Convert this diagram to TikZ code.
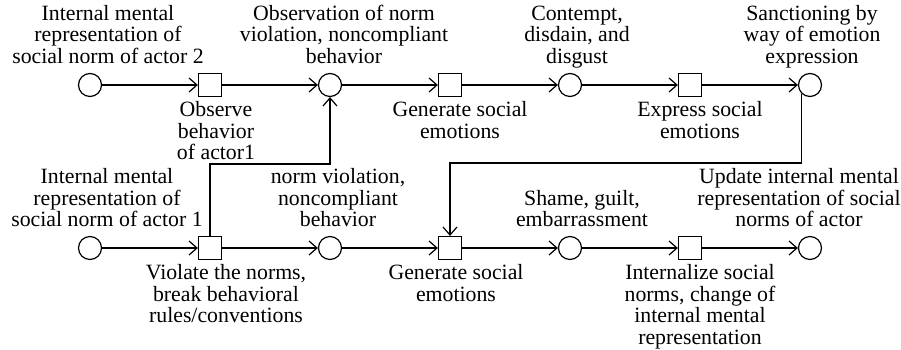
\documentclass[tikz,border=0pt]{standalone}
\usepackage{fontspec}
\setmainfont{Liberation Serif}
\usetikzlibrary{arrows.meta, positioning}

\begin{document}
\begin{tikzpicture}[x=0.5pt, y=0.5pt,
    place/.style={circle, draw, semithick, minimum size=11.5pt, inner sep=0pt},
    trans/.style={rectangle, draw, semithick, minimum size=11.5pt, inner sep=0pt},
    arc/.style={semithick, -{Straight Barb[length=4pt, width=7pt]}},
    uplbl/.style={align=center, inner sep=0pt, text depth=0pt, font=\fontsize{10.9}{10.75}\selectfont},
    dnlbl/.style={align=center, inner sep=0pt, font=\fontsize{10.9}{10.75}\selectfont}]
    \useasboundingbox (0,0) rectangle (901,349);

    % top row: actor 2 watches and sanctions
    \node[place] (c1) at (90,264) {};
    \node[trans] (t1) at (210,264) {};
    \node[place] (c2) at (330,264) {};
    \node[trans] (t2) at (450,264) {};
    \node[place] (c3) at (570,264) {};
    \node[trans] (t3) at (690,264) {};
    \node[place] (c4) at (810,264) {};

    % bottom row: actor 1 breaks the norm
    \node[place] (c5) at (90,101) {};
    \node[trans] (t5) at (210,101) {};
    \node[place] (c6) at (330,101) {};
    \node[trans] (t6) at (450,101) {};
    \node[place] (c7) at (570,101) {};
    \node[trans] (t7) at (690,101) {};
    \node[place] (c8) at (810,101) {};

    \node[uplbl, above=4.5pt of c1, xshift=9pt] (c1l) {Internal mental\\representation of\\social norm of actor 2};
    \node[dnlbl, below=2pt of t1, xshift=3pt] (t1l) {Observe\\behavior\\of actor1};
    \node[uplbl, above=4.5pt of c2, xshift=7pt] (c2l) {Observation of norm\\violation, noncompliant\\behavior};
    \node[dnlbl, below=2pt of t2, xshift=5pt] (t2l) {Generate social\\emotions};
    \node[uplbl, above=4.5pt of c3, xshift=3.5pt] (c3l) {Contempt,\\disdain, and\\disgust};
    \node[dnlbl, below=2pt of t3, xshift=5pt] (t3l) {Express social\\emotions};
    \node[uplbl, above=4.5pt of c4, xshift=1pt] (c4l) {Sanctioning by\\way of emotion\\expression};

    \node[uplbl, above=4.5pt of c5, xshift=8.5pt] (c5l) {Internal mental\\representation of\\social norm of actor 1};
    \node[dnlbl, below=2pt of t5, xshift=8pt] (t5l) {Violate the norms,\\break behavioral\\rules/conventions};
    \node[uplbl, above=4.5pt of c6, xshift=4pt] (c6l) {norm violation,\\noncompliant\\behavior};
    \node[dnlbl, below=2pt of t6, xshift=3pt] (t6l) {Generate social\\emotions};
    \node[uplbl, above=4.5pt of c7, xshift=6pt] (c7l) {Shame, guilt,\\embarrassment};
    \node[dnlbl, below=2pt of t7, xshift=5pt] (t7l) {Internalize social\\norms, change of\\internal mental\\representation};
    \node[uplbl, above=4.5pt of c8, xshift=-5.5pt] (c8l) {Update internal mental\\representation of social\\norms of actor};

    \draw[arc] (c1) -- (t1);
    \draw[arc] (t1) -- (c2);
    \draw[arc] (c2) -- (t2);
    \draw[arc] (t2) -- (c3);
    \draw[arc] (c3) -- (t3);
    \draw[arc] (t3) -- (c4);

    \draw[arc] (c5) -- (t5);
    \draw[arc] (t5) -- (c6);
    \draw[arc] (c6) -- (t6);
    \draw[arc] (t6) -- (c7);
    \draw[arc] (c7) -- (t7);
    \draw[arc] (t7) -- (c8);

    % cross links between the two actors
    \coordinate (upbend) at (210,185);
    \coordinate (dnbend) at (450,186);
    \draw[arc] (t5) -- (upbend) -| (c2);
    \draw[arc] (c4.south west) |- (dnbend) -- (t6);
\end{tikzpicture}
\end{document}
